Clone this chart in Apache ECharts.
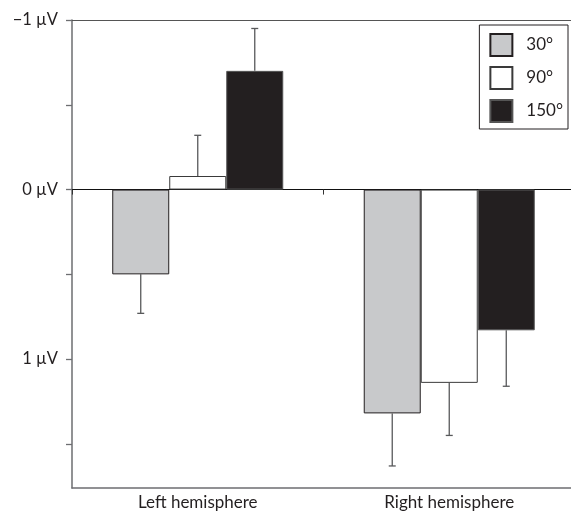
<!DOCTYPE html>
<html>
<head>
<meta charset="utf-8">
<script src="https://cdn.jsdelivr.net/npm/echarts@6/dist/echarts.min.js"></script>
<style>html,body{margin:0;padding:0;background:#fff;overflow:hidden}#c{width:575px;height:514px}</style>
</head>
<body>
<div id="c"></div>
<script>
const categories = ['Left hemisphere', 'Right hemisphere'];
const seriesNames = ['30°', '90°', '150°'];
const means30 = [0.50, 1.32];
const means90 = [-0.08, 1.14];
const means150 = [-0.70, 0.83];
const errEnd30 = [0.73, 1.63];
const errEnd90 = [-0.32, 1.45];
const errEnd150 = [-0.95, 1.16];
const yTickValues = [-1, -0.5, 0, 0.5, 1, 1.5];
const yLabelValues = [-1, 0, 1];
const yLabelTexts = {'-1': '\u22121 \u00b5V', '0': '0 \u00b5V', '1': '1 \u00b5V'};

const FONT = 'Lato';
const axisGrey = '#6d6e71';
const catGap = 0.32;

const means = [means30, means90, means150];
const errs = [errEnd30, errEnd90, errEnd150];
const fills = ['#c8c9cb', '#ffffff', '#231f20'];
const borders = ['#231f20', '#3a3a3a', '#555555'];

const chart = echarts.init(document.getElementById('c'), null, {renderer: 'canvas'});

const barSeries = seriesNames.map((n, k) => {
  const s = {
    name: n, type: 'bar', xAxisIndex: 0, yAxisIndex: 0,
    data: means[k],
    barGap: '0%', barCategoryGap: (catGap * 100) + '%',
    itemStyle: {color: fills[k], borderColor: borders[k], borderWidth: 1},
    z: 3
  };
  if (k === 0) {
    s.markLine = {
      silent: true, symbol: ['none', 'none'], label: {show: false},
      lineStyle: {color: '#555', type: 'solid', width: 1},
      data: [{yAxis: -1}]
    };
  }
  return s;
});

const errSeries = seriesNames.map((n, k) => ({
  name: 'err' + k, type: 'custom', xAxisIndex: 0, yAxisIndex: 0,
  data: categories.map((c, i) => [i, means[k][i], errs[k][i]]),
  encode: {x: 0, y: [1, 2]},
  z: 2,
  renderItem: function (params, api) {
    const cat = api.value(0);
    const base = api.coord([cat, api.value(1)]);
    const end = api.coord([cat, api.value(2)]);
    const band = api.size([1, 0])[0];
    const bw = band * (1 - catGap) / 3;
    const x = base[0] + (k - 1) * bw;
    const st = {stroke: '#58595b', lineWidth: 1.3};
    return {
      type: 'group',
      children: [
        {type: 'line', shape: {x1: x, y1: base[1], x2: x, y2: end[1]}, style: st},
        {type: 'line', shape: {x1: x - 3.5, y1: end[1], x2: x + 3.5, y2: end[1]}, style: st}
      ]
    };
  }
}));

chart.setOption({
  animation: false,
  textStyle: {fontFamily: FONT},
  grid: {left: 72, right: 0, top: 20, bottom: 26, containLabel: false},
  legend: {
    data: seriesNames, orient: 'vertical', right: 7, top: 25,
    icon: 'rect', itemWidth: 22, itemHeight: 22, itemGap: 9,
    borderColor: '#231f20', borderWidth: 1, padding: [8, 5, 6, 10],
    textStyle: {fontFamily: FONT, fontSize: 17, color: '#231f20', padding: [0, 0, 0, 9]},
    selectedMode: false
  },
  xAxis: [
    {
      type: 'category', data: categories, position: 'bottom',
      axisLine: {onZero: false, lineStyle: {color: axisGrey, width: 1.5}},
      axisTick: {show: false},
      axisLabel: {fontFamily: FONT, fontSize: 17, color: '#231f20', margin: 6},
      splitLine: {show: false}
    },
    {
      type: 'category', data: categories,
      axisLine: {onZero: true, lineStyle: {color: '#111', width: 1.2}},
      axisTick: {show: true, inside: true, length: 5, lineStyle: {color: '#333', width: 1}},
      axisLabel: {show: false},
      splitLine: {show: false}
    }
  ],
  yAxis: {
    type: 'value', inverse: true, min: -1, max: 1.76, interval: 0.5,
    axisLine: {show: true, lineStyle: {color: axisGrey, width: 1.5}},
    axisTick: {show: true, length: 6, customValues: yTickValues, lineStyle: {color: axisGrey, width: 1.3}},
    axisLabel: {
      customValues: yLabelValues, margin: 14, fontFamily: FONT, fontSize: 16.5, color: '#231f20',
      formatter: v => yLabelTexts[String(Math.round(v))]
    },
    splitLine: {show: false}
  },
  series: barSeries.concat(errSeries)
});
</script>
</body>
</html>
